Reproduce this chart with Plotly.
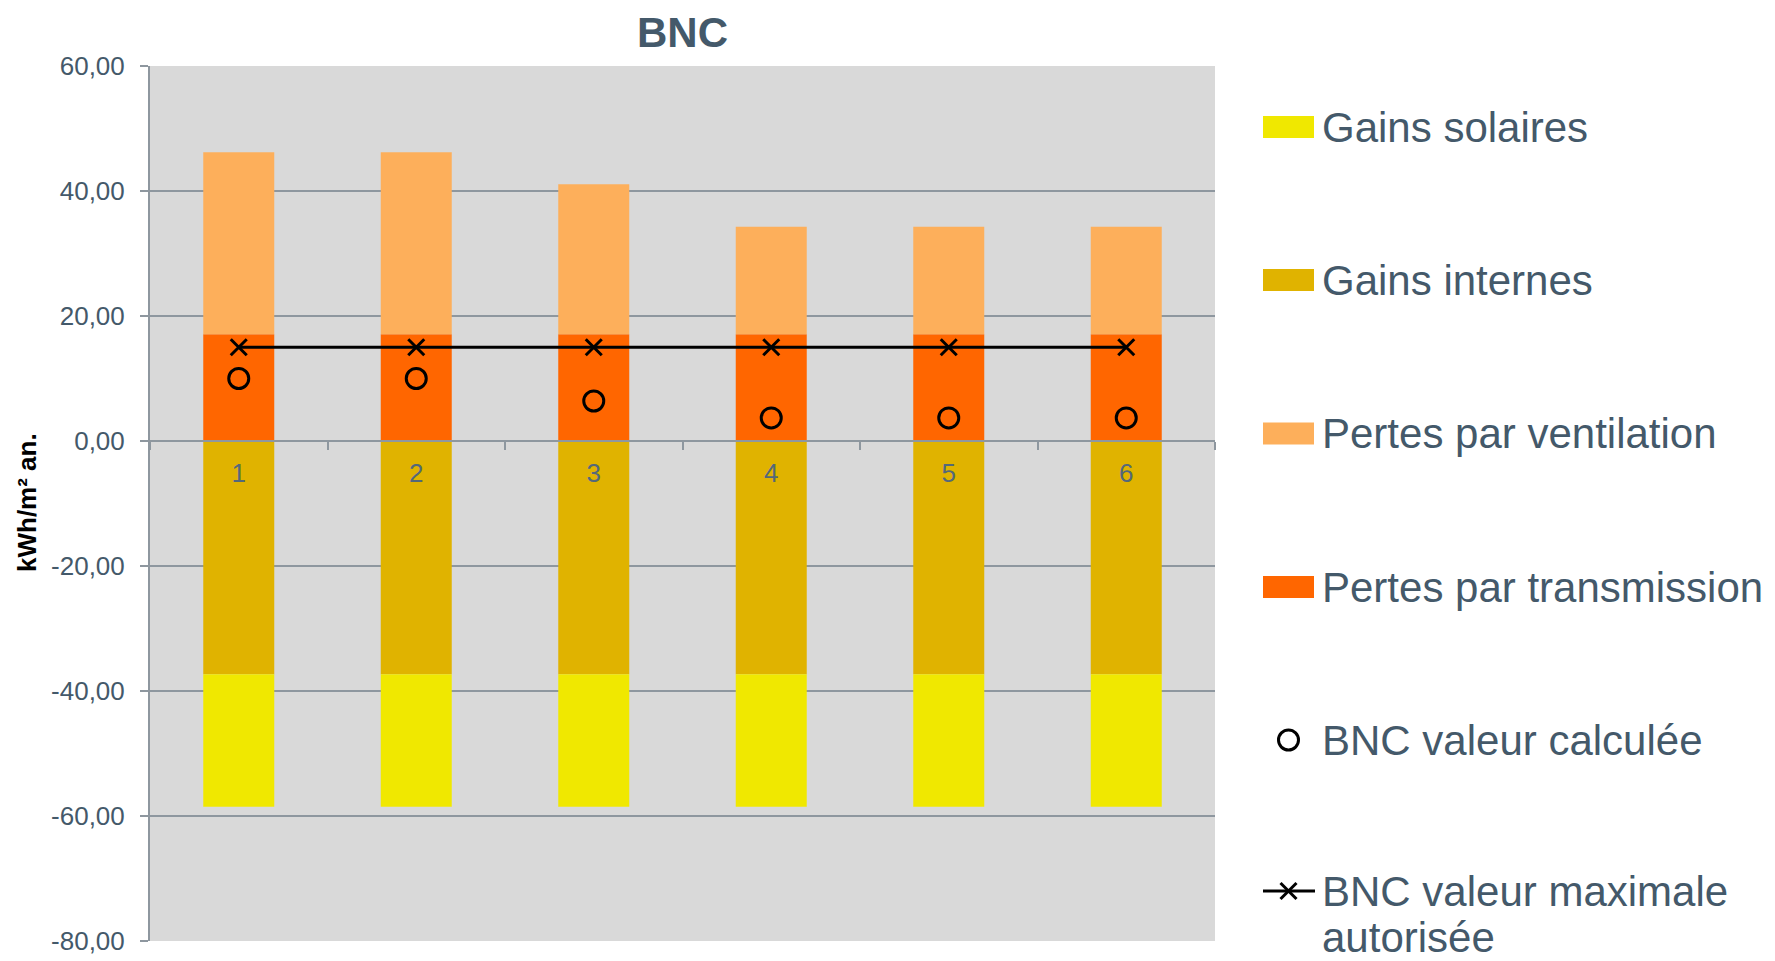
import plotly.graph_objects as go

# --- data ---------------------------------------------------------------
categories = ["1", "2", "3", "4", "5", "6"]
gains_internes = [-37.3, -37.3, -37.3, -37.3, -37.3, -37.3]
gains_solaires = [-21.2, -21.2, -21.2, -21.2, -21.2, -21.2]
pertes_transmission = [17.1, 17.1, 17.1, 17.1, 17.1, 17.1]
pertes_ventilation = [29.1, 29.1, 24.0, 17.2, 17.2, 17.2]
bnc_calculee = [10.0, 10.0, 6.4, 3.7, 3.7, 3.7]
bnc_max = [15.0, 15.0, 15.0, 15.0, 15.0, 15.0]

y_tickvals = [60, 40, 20, 0, -20, -40, -60, -80]
y_ticktext = ["60,00", "40,00", "20,00", "0,00", "-20,00", "-40,00", "-60,00", "-80,00"]

legend_labels = [
    "Gains solaires",
    "Gains internes",
    "Pertes par ventilation",
    "Pertes par transmission",
    "BNC valeur calculée",
    "BNC valeur maximale<br>autorisée",
]

# --- styling ------------------------------------------------------------
C_SOL = "#F0E800"
C_INT = "#E0B300"
C_VENT = "#FDAF5B"
C_TRANS = "#FF6600"
GRID = "#8E979F"
TXT = "#44596A"
FONT = "Liberation Sans, Arial, Helvetica, sans-serif"

W, H = 1775, 961
L, R, T, B = 150, 1215, 66, 941   # plot area in pixels
Y_MIN, Y_MAX = -80, 60


def px_x(px):
    return (px - L) / (R - L)


def px_y(py):
    return (B - py) / (B - T)


fig = go.Figure()

# stacked bars: negative parts stack downward, positive parts upward
fig.add_trace(go.Bar(x=categories, y=gains_internes, name="Gains internes",
                     marker=dict(color=C_INT, line=dict(width=0))))
fig.add_trace(go.Bar(x=categories, y=gains_solaires, name="Gains solaires",
                     marker=dict(color=C_SOL, line=dict(width=0))))
fig.add_trace(go.Bar(x=categories, y=pertes_transmission, name="Pertes par transmission",
                     marker=dict(color=C_TRANS, line=dict(width=0))))
fig.add_trace(go.Bar(x=categories, y=pertes_ventilation, name="Pertes par ventilation",
                     marker=dict(color=C_VENT, line=dict(width=0))))

fig.add_trace(go.Scatter(x=categories, y=bnc_max, name="BNC valeur maximale autorisée",
                         mode="lines+markers",
                         line=dict(color="black", width=3),
                         marker=dict(symbol="x-thin-open", size=16,
                                     line=dict(color="black", width=3))))
fig.add_trace(go.Scatter(x=categories, y=bnc_calculee, name="BNC valeur calculée",
                         mode="markers",
                         marker=dict(symbol="circle-open", size=20, color="black",
                                     line=dict(color="black", width=3))))

# --- hand-drawn legend on the right -------------------------------------
shapes = []
annotations = []
row_y = [127, 280, 433.5, 587, 740, 891]
line_step = 46
sym_x0, sym_x1 = 1263, 1314
text_x = 1320
legend_fill = [C_SOL, C_INT, C_VENT, C_TRANS]
LEG_SIZE = 42

for i, lbl in enumerate(legend_labels):
    yc = row_y[i]
    cx = (sym_x0 + sym_x1) / 2
    if i < 4:
        shapes.append(dict(type="rect", xref="paper", yref="paper",
                           x0=px_x(sym_x0), x1=px_x(sym_x1),
                           y0=px_y(yc + 11), y1=px_y(yc - 11),
                           fillcolor=legend_fill[i], line=dict(width=0)))
    elif i == 4:
        shapes.append(dict(type="circle", xref="paper", yref="paper",
                           x0=px_x(cx - 10), x1=px_x(cx + 10),
                           y0=px_y(yc + 10), y1=px_y(yc - 10),
                           line=dict(color="black", width=3)))
    else:
        shapes.append(dict(type="line", xref="paper", yref="paper",
                           x0=px_x(sym_x0), x1=px_x(sym_x1 + 1),
                           y0=px_y(yc), y1=px_y(yc),
                           line=dict(color="black", width=3)))
        for s in (1, -1):
            shapes.append(dict(type="line", xref="paper", yref="paper",
                               x0=px_x(cx - 8), x1=px_x(cx + 8),
                               y0=px_y(yc - 8 * s), y1=px_y(yc + 8 * s),
                               line=dict(color="black", width=3)))
    # each text line placed on its own so the line spacing stays tight
    for k, part in enumerate(lbl.split("<br>")):
        annotations.append(dict(text=part, xref="paper", yref="paper",
                                x=px_x(text_x), y=px_y(yc + k * line_step),
                                xanchor="left", yanchor="middle", showarrow=False,
                                font=dict(family=FONT, size=LEG_SIZE, color=TXT)))

# y-axis title
annotations.append(dict(text="<b>kWh/m² an.</b>", xref="paper", yref="paper",
                        x=px_x(27), y=px_y(503), xanchor="center", yanchor="middle",
                        textangle=-90, showarrow=False,
                        font=dict(family=FONT, size=26, color="black")))

fig.update_layout(
    width=W, height=H,
    margin=dict(l=L, r=W - R, t=T, b=H - B, pad=0, autoexpand=False),
    barmode="relative",
    bargap=0.6,
    showlegend=False,
    paper_bgcolor="white",
    plot_bgcolor="#D9D9D9",
    font=dict(family=FONT, color=TXT),
    title=dict(text="<b>BNC</b>", x=0.5, xref="paper", xanchor="center",
               y=1 - 32 / H, yref="container", yanchor="middle",
               font=dict(family=FONT, size=42, color=TXT)),
    shapes=shapes,
    annotations=annotations,
)

fig.update_xaxes(
    type="category",
    range=[-0.5, 5.5],
    anchor="free",
    position=(0 - Y_MIN) / (Y_MAX - Y_MIN),
    automargin=False,
    showline=True, linecolor=GRID, linewidth=2,
    showgrid=False, zeroline=False,
    tickson="boundaries", ticks="outside", ticklen=8, tickwidth=2, tickcolor=GRID,
    tickfont=dict(family=FONT, size=26, color="#53687A"),
    ticklabelstandoff=9,
)
fig.update_yaxes(
    range=[Y_MIN, Y_MAX],
    tickvals=y_tickvals, ticktext=y_ticktext,
    automargin=False,
    showline=True, linecolor=GRID, linewidth=2,
    showgrid=True, gridcolor=GRID, gridwidth=2,
    zeroline=False,
    ticks="outside", ticklen=8, tickwidth=2, tickcolor=GRID,
    tickfont=dict(family=FONT, size=26, color=TXT),
    ticklabelstandoff=10,
)

fig.write_html("out.html")
